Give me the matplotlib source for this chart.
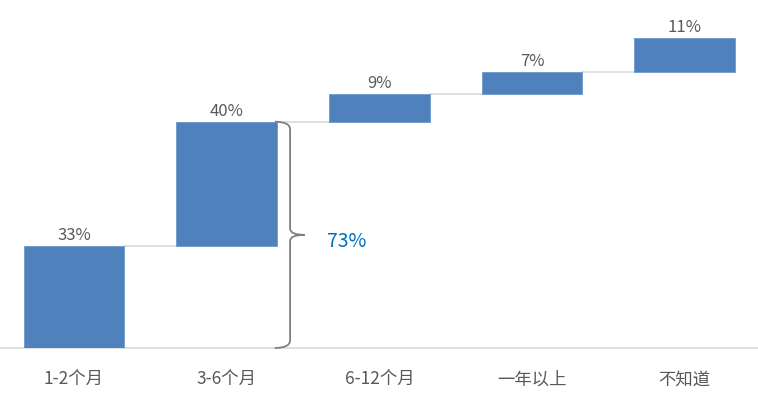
import matplotlib.pyplot as plt
from matplotlib.path import Path
from matplotlib.patches import PathPatch

plt.rcParams['font.family'] = ['Noto Sans CJK SC', 'DejaVu Sans']

categories = ['1-2个月', '3-6个月', '6-12个月', '一年以上', '不知道']
values = [33, 40, 9, 7, 11]
brace_label = '73%'

bottoms = []
total = 0
for v in values:
    bottoms.append(total)
    total += v

fig = plt.figure(figsize=(7.58, 4.07), dpi=100)
ax = fig.add_axes([0, 59 / 407, 1, 310 / 407])

x = list(range(len(values)))
w = 0.66
ax.bar(x, values, bottom=bottoms, width=w, color='#4F81BD', edgecolor='#6E97CB', linewidth=0.6, zorder=3)

# connector lines
for i in range(len(values) - 1):
    level = bottoms[i] + values[i]
    ax.plot([i + w / 2, i + 1 - w / 2], [level, level], color='#d9d9d9', lw=1.2, zorder=2)

# value labels
for i, v in enumerate(values):
    ax.text(i, bottoms[i] + v + 0.6, f'{v}%', ha='center', va='bottom',
            fontsize=12, color='#595959', clip_on=False)

# brace next to the second bar
top = bottoms[1] + values[1]
xb, xs, xt = 1.415, 1.315, 1.51
mid = 36.5
verts = [(xs, top), (xb, top), (xb, top - 2.5),
         (xb, mid + 2), (xb, mid), (xt, mid),
         (xb, mid), (xb, mid - 2),
         (xb, 2.5), (xb, 0), (xs, 0)]
codes = [Path.MOVETO, Path.CURVE3, Path.CURVE3,
         Path.LINETO, Path.CURVE3, Path.CURVE3,
         Path.CURVE3, Path.CURVE3,
         Path.LINETO, Path.CURVE3, Path.CURVE3]
ax.add_patch(PathPatch(Path(verts, codes), facecolor='none', edgecolor='#7f7f7f', lw=1.3, zorder=4, clip_on=False))
ax.text(1.655, mid - 2.3, brace_label, ha='left', va='center', fontsize=14, color='#0070C0')

ax.set_xlim(-74 / 152.7, (758 - 74) / 152.7)
ax.set_ylim(0, 100)
ax.set_xticks(x)
ax.set_xticklabels(categories, fontsize=12.5, color='#595959')
ax.tick_params(axis='x', length=0, pad=16.5)
ax.set_yticks([])
for s in ['top', 'right', 'left']:
    ax.spines[s].set_visible(False)
ax.spines['bottom'].set_color('#d9d9d9')
ax.spines['bottom'].set_linewidth(1.2)
ax.patch.set_alpha(0)

fig.savefig('out.png', dpi=100)
